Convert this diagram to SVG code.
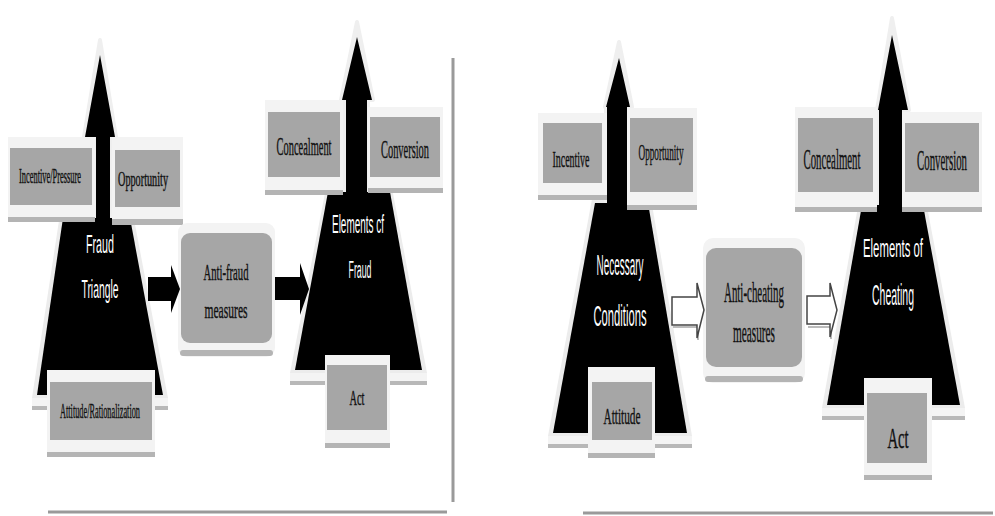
<svg xmlns="http://www.w3.org/2000/svg" width="995" height="516" viewBox="0 0 995 516">
<style>
.bg{fill:#ffffff}
.bo{fill:#f3f3f3}
.bs{fill:#b4b4b4}
.bi{fill:#a6a6a6}
.tri{fill:#000000}
.halo{fill:#ececec}
.base{fill:#f4f4f4}
.baseline{fill:#b8b8b8}
.ahalo{fill:#efefef;stroke:#efefef;stroke-width:4;stroke-linejoin:round}
.lbl{font-family:"Liberation Serif",serif;fill:#111111;text-anchor:middle;stroke:#111111;stroke-width:0.4}
.wt{font-family:"Liberation Sans",sans-serif;fill:#ffffff;text-anchor:middle}
.frame{stroke:#9a9a9a;stroke-width:3;fill:none}
.solid{fill:#000000}
.hollow{fill:#ffffff;stroke:#444444;stroke-width:1.5;stroke-linejoin:miter}
.hshadow{fill:none;stroke:#bbbbbb;stroke-width:2}
</style>
<rect class="bg" x="0" y="0" width="995" height="516"/>

<g id="frames">
<line class="frame" x1="453" y1="58" x2="453" y2="502"/>
<line class="frame" x1="48" y1="512" x2="447" y2="512"/>
<line class="frame" x1="583" y1="513" x2="993" y2="513"/>
</g>

<!-- LEFT PANEL -->
<g id="fraud-triangle">
<polygon class="halo" points="60,214 133,214 168,398 32,398"/>
<rect class="base" x="32" y="398" width="136" height="10"/>
<rect class="baseline" x="32" y="406" width="136" height="4"/>
<polygon class="ahalo" points="100,40 116,137 111,137 111,218 95,218 95,137 84,137"/>
<polygon class="tri" points="63,218 130,218 163,395 37,395"/>
<polygon class="tri" points="100,55 115,137 110,137 110,220 96,220 96,137 85,137"/>
<text class="wt" font-size="26" transform="translate(100,253) scale(0.412,1)" textLength="68" lengthAdjust="spacingAndGlyphs">Fraud</text>
<text class="wt" font-size="26" transform="translate(100,298) scale(0.394,1)" textLength="94" lengthAdjust="spacingAndGlyphs">Triangle</text>
</g>

<g id="incentive-pressure">
<rect class="bo" x="8" y="137" width="87" height="85"/>
<rect class="bs" x="8" y="217" width="87" height="5"/>
<rect class="bi" x="10" y="148" width="82" height="57"/>
<text class="lbl" font-size="20" transform="translate(50,183) scale(0.42,1)" textLength="147.6" lengthAdjust="spacingAndGlyphs">Incentive/Pressure</text>
</g>

<g id="opportunity">
<rect class="bo" x="112" y="137" width="71" height="88"/>
<rect class="bs" x="112" y="219" width="71" height="6"/>
<rect class="bi" x="115" y="150" width="65" height="57"/>
<text class="lbl" font-size="20" transform="translate(143,186) scale(0.511,1)" textLength="97.8" lengthAdjust="spacingAndGlyphs">Opportunity</text>
</g>

<g id="attitude-rationalization">
<rect class="bo" x="47" y="370" width="108" height="87"/>
<rect class="bs" x="47" y="452" width="108" height="5"/>
<rect class="bi" x="50" y="382" width="102" height="58"/>
<text class="lbl" font-size="20" transform="translate(100,418) scale(0.414,1)" textLength="193.2" lengthAdjust="spacingAndGlyphs">Attitude/Rationalization</text>
</g>

<g id="anti-fraud-measures">
<rect class="bo" x="178" y="223" width="97" height="134" rx="9"/>
<rect class="bs" x="180" y="350" width="93" height="6" rx="3"/>
<rect class="bi" x="181" y="233" width="91" height="110" rx="9"/>
<text class="lbl" font-size="24" transform="translate(226,280) scale(0.444,1)" textLength="101.4" lengthAdjust="spacingAndGlyphs">Anti-fraud</text>
<text class="lbl" font-size="24" transform="translate(226,318) scale(0.481,1)" textLength="89.4" lengthAdjust="spacingAndGlyphs">measures</text>
</g>

<g id="elements-of-fraud">
<polygon class="halo" points="326,188 392,188 427,373 290,373"/>
<rect class="base" x="290" y="373" width="137" height="10"/>
<rect class="baseline" x="290" y="381" width="137" height="4"/>
<polygon class="ahalo" points="357,22 373,100 368,100 368,192 345,192 345,100 341,100"/>
<polygon class="tri" points="328,192 390,192 422,370 295,370"/>
<polygon class="tri" points="357,37 372,100 367,100 367,194 346,194 346,100 342,100"/>
<text class="wt" font-size="26" transform="translate(358,233) scale(0.383,1)" textLength="135.8" lengthAdjust="spacingAndGlyphs">Elements cf</text>
<text class="wt" font-size="24" transform="translate(360,278) scale(0.367,1)" textLength="62.7" lengthAdjust="spacingAndGlyphs">Fraud</text>
</g>

<g id="concealment-1">
<rect class="bo" x="265" y="100" width="78" height="95"/>
<rect class="bs" x="265" y="190" width="78" height="5"/>
<rect class="bi" x="268" y="112" width="72" height="65"/>
<text class="lbl" font-size="26" transform="translate(304,155) scale(0.401,1)" textLength="137.2" lengthAdjust="spacingAndGlyphs">Concealment</text>
</g>

<g id="conversion-1">
<rect class="bo" x="368" y="107" width="75" height="86"/>
<rect class="bs" x="368" y="188" width="75" height="5"/>
<rect class="bi" x="370" y="117" width="70" height="60"/>
<text class="lbl" font-size="26" transform="translate(405,158) scale(0.4,1)" textLength="120" lengthAdjust="spacingAndGlyphs">Conversion</text>
</g>

<g id="act-1">
<rect class="bo" x="325" y="355" width="65" height="93"/>
<rect class="bs" x="325" y="443" width="65" height="5"/>
<rect class="bi" x="327" y="365" width="60" height="65"/>
<text class="lbl" font-size="20" transform="translate(357,405) scale(0.519,1)" textLength="28.9" lengthAdjust="spacingAndGlyphs">Act</text>
</g>

<!-- RIGHT PANEL -->
<g id="necessary-conditions">
<polygon class="halo" points="592,199 651,199 692,436 548,436"/>
<rect class="base" x="548" y="436" width="144" height="10"/>
<rect class="baseline" x="548" y="444" width="144" height="4"/>
<polygon class="ahalo" points="619,42 632,107 628,107 628,203 606,203 606,107 605,107"/>
<polygon class="tri" points="595,203 648,203 687,433 553,433"/>
<polygon class="tri" points="619,58 630,107 627,107 627,205 607,205 607,107 606,107"/>
<text class="wt" font-size="30" transform="translate(620,275) scale(0.332,1)" textLength="141.6" lengthAdjust="spacingAndGlyphs">Necessary</text>
<text class="wt" font-size="30" transform="translate(620,326) scale(0.374,1)" textLength="141.7" lengthAdjust="spacingAndGlyphs">Conditions</text>
</g>

<g id="incentive">
<rect class="bo" x="538" y="113" width="69" height="87"/>
<rect class="bs" x="538" y="195" width="69" height="5"/>
<rect class="bi" x="543" y="123" width="59" height="60"/>
<text class="lbl" font-size="24" transform="translate(571,167) scale(0.414,1)" textLength="89.4" lengthAdjust="spacingAndGlyphs">Incentive</text>
</g>

<g id="opportunity-2">
<rect class="bo" x="627" y="108" width="70" height="102"/>
<rect class="bs" x="627" y="205" width="70" height="5"/>
<rect class="bi" x="630" y="118" width="63" height="74"/>
<text class="lbl" font-size="24" transform="translate(661,160) scale(0.384,1)" textLength="117.2" lengthAdjust="spacingAndGlyphs">Opportunity</text>
</g>

<g id="attitude">
<rect class="bo" x="588" y="367" width="67" height="91"/>
<rect class="bs" x="588" y="453" width="67" height="5"/>
<rect class="bi" x="592" y="382" width="60" height="58"/>
<text class="lbl" font-size="24" transform="translate(622,424) scale(0.47,1)" textLength="78.7" lengthAdjust="spacingAndGlyphs">Attitude</text>
</g>

<g id="anti-cheating-measures">
<rect class="bo" x="703" y="238" width="102" height="145" rx="10"/>
<rect class="bs" x="705" y="376" width="98" height="6" rx="3"/>
<rect class="bi" x="706" y="248" width="96" height="119" rx="10"/>
<text class="lbl" font-size="30" transform="translate(754,302) scale(0.364,1)" textLength="164.8" lengthAdjust="spacingAndGlyphs">Anti-cheating</text>
<text class="lbl" font-size="30" transform="translate(754,342) scale(0.376,1)" textLength="111.7" lengthAdjust="spacingAndGlyphs">measures</text>
</g>

<g id="elements-of-cheating">
<polygon class="halo" points="859,201 926,201 965,408 822,408"/>
<rect class="base" x="822" y="408" width="143" height="10"/>
<rect class="baseline" x="822" y="416" width="143" height="4"/>
<polygon class="ahalo" points="892,18 909,110 903,110 903,205 878,205 878,110 877,110"/>
<polygon class="tri" points="862,205 923,205 960,405 827,405"/>
<polygon class="tri" points="892,35 908,110 902,110 902,207 879,207 879,110 878,110"/>
<text class="wt" font-size="26" transform="translate(893,257) scale(0.437,1)" textLength="137.3" lengthAdjust="spacingAndGlyphs">Elements of</text>
<text class="wt" font-size="30" transform="translate(893,305) scale(0.35,1)" textLength="120" lengthAdjust="spacingAndGlyphs">Cheating</text>
</g>

<g id="concealment-2">
<rect class="bo" x="795" y="107" width="82" height="105"/>
<rect class="bs" x="795" y="207" width="82" height="5"/>
<rect class="bi" x="798" y="118" width="75" height="74"/>
<text class="lbl" font-size="30" transform="translate(832,169) scale(0.36,1)" textLength="158.3" lengthAdjust="spacingAndGlyphs">Concealment</text>
</g>

<g id="conversion-2">
<rect class="bo" x="902" y="112" width="80" height="100"/>
<rect class="bs" x="902" y="207" width="80" height="5"/>
<rect class="bi" x="905" y="123" width="74" height="69"/>
<text class="lbl" font-size="30" transform="translate(942,170) scale(0.361,1)" textLength="138.5" lengthAdjust="spacingAndGlyphs">Conversion</text>
</g>

<g id="act-2">
<rect class="bo" x="864" y="378" width="68" height="102"/>
<rect class="bs" x="864" y="475" width="68" height="5"/>
<rect class="bi" x="867" y="393" width="60" height="70"/>
<text class="lbl" font-size="30" transform="translate(898,448) scale(0.485,1)" textLength="43.3" lengthAdjust="spacingAndGlyphs">Act</text>
</g>

<g id="connectors">
<polygon class="solid" points="148,277 171,277 171,265 180,289 171,313 171,301 148,301"/>
<polygon class="solid" points="275,277 300,277 300,263 309,289 300,315 300,300 275,300"/>
<polyline class="hshadow" points="673,327 698,327 698,340"/>
<polygon class="hollow" points="672,297 697,297 697,283 704,310 697,338 697,325 672,325"/>
<polyline class="hshadow" points="808,327 831,327 831,339"/>
<polygon class="hollow" points="807,296 830,296 830,283 837,310 830,337 830,324 807,324"/>
</g>
</svg>
